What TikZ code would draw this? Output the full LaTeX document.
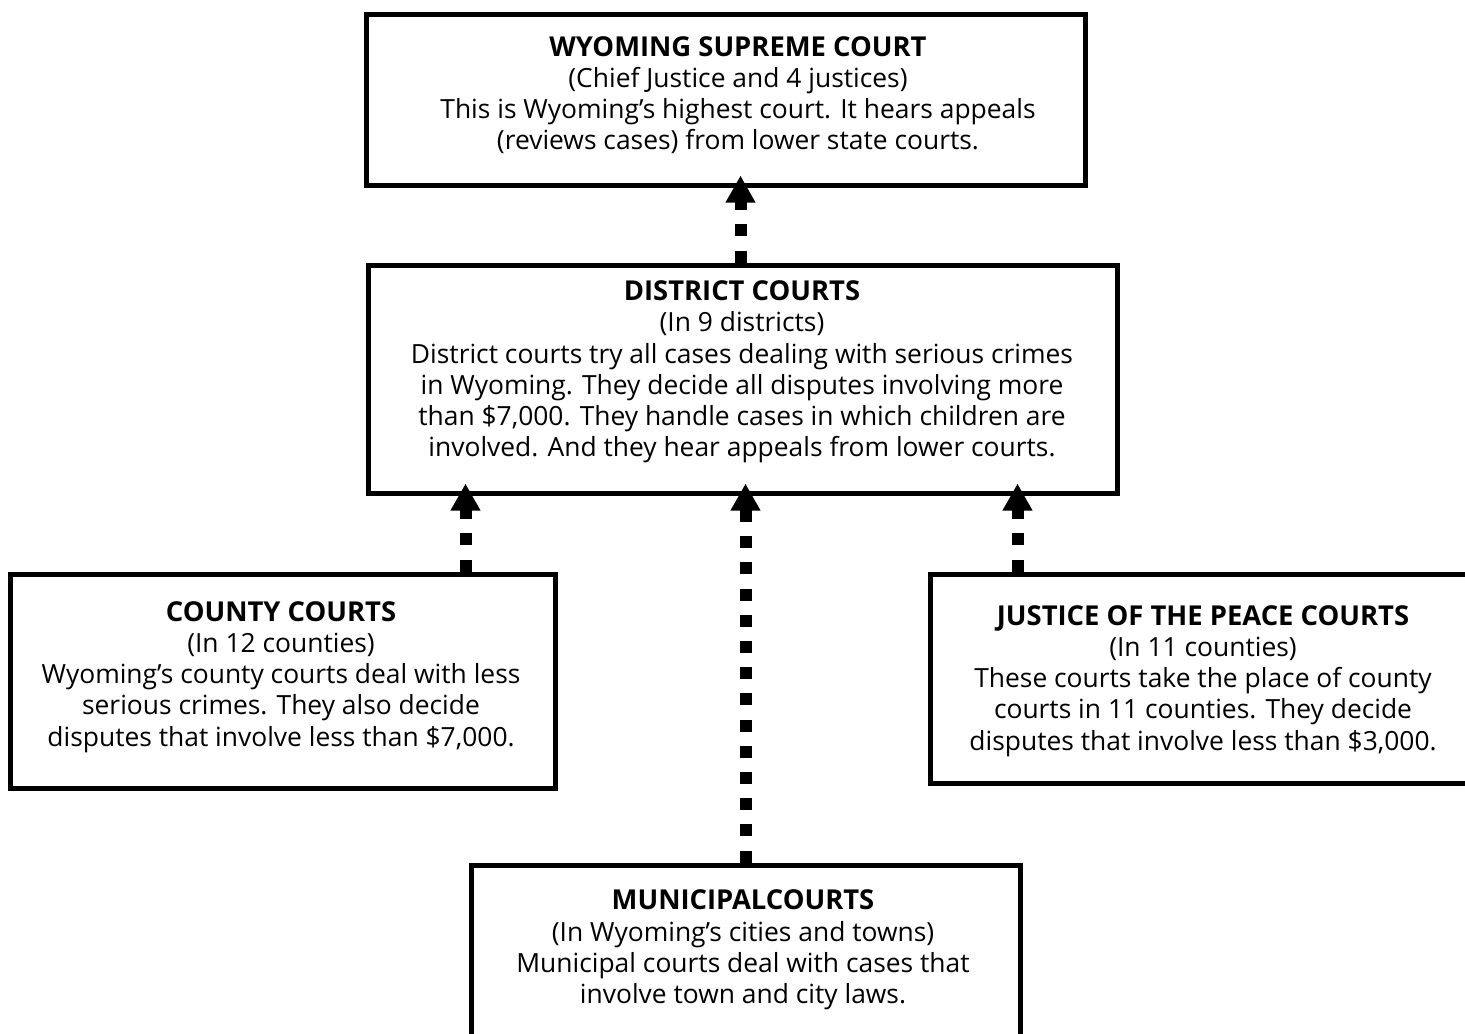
\documentclass[tikz,border=0pt]{standalone}
\usepackage{fontspec}
\setmainfont{Open Sans}
\usetikzlibrary{arrows.meta}
\newcommand{\courttitle}[1]{{\fontsize{13.7}{15.6}\selectfont\bfseries #1}}
\begin{document}
\begin{tikzpicture}[x=0.5pt, y=-0.5pt,
    court/.style={draw, line width=2.5pt, inner sep=0pt},
    courttext/.style={align=center, inner sep=0pt, font=\fontsize{13.2}{15.6}\selectfont},
    appeal/.style={line width=6pt, dash pattern=on 6pt off 7.1pt, shorten >=-6pt,
        -{Triangle[width=14pt, length=13.5pt]}}]
    \useasboundingbox (0, 0) rectangle (1465, 1033);

    % boxes
    \node[court, minimum width=359.5pt, minimum height=85.5pt] (supreme) at (725.5, 99.5) {};
    \node[court, minimum width=374.5pt, minimum height=114pt] (district) at (742.5, 379) {};
    \node[court, minimum width=272.5pt, minimum height=107pt] (county) at (282.5, 681) {};
    \node[court, minimum width=272pt, minimum height=104.5pt] (justice) at (1202, 678.5) {};
    \node[court, minimum width=274.5pt, minimum height=87pt] (municipal) at (745.5, 952) {};

    % texts
    \node[courttext] (supremetxt) at (738, 95) {\courttitle{WYOMING SUPREME COURT}\\
        (Chief Justice and 4 justices)\\
        This is Wyoming's highest court. It hears appeals\\
        (reviews cases) from lower state courts.};
    \node[courttext] (districttxt) at (742, 372) {\courttitle{DISTRICT COURTS}\\
        (In 9 districts)\\
        District courts try all cases dealing with serious crimes\\
        in Wyoming. They decide all disputes involving more\\
        than \$7,000. They handle cases in which children are\\
        involved. And they hear appeals from lower courts.};
    \node[courttext] (countytxt) at (281, 677) {\courttitle{COUNTY COURTS}\\
        (In 12 counties)\\
        Wyoming's county courts deal with less\\
        serious crimes. They also decide\\
        disputes that involve less than \$7,000.};
    \node[courttext] (justicetxt) at (1203, 681) {\courttitle{JUSTICE OF THE PEACE COURTS}\\
        (In 11 counties)\\
        These courts take the place of county\\
        courts in 11 counties. They decide\\
        disputes that involve less than \$3,000.};
    \node[courttext] (municipaltxt) at (743, 950) {\courttitle{MUNICIPALCOURTS}\\
        (In Wyoming's cities and towns)\\
        Municipal courts deal with cases that\\
        involve town and city laws.};

    % appeals
    \draw[appeal] ([xshift=-1pt]district.north) -- ([xshift=-1pt]district.north |- supreme.south);
    \draw[appeal] ([xshift=-46pt]county.north east) -- ([xshift=-46pt]county.north east |- district.south);
    \draw[appeal] (municipal.north) -- (municipal.north |- district.south);
    \draw[appeal] ([xshift=45pt]justice.north west) -- ([xshift=45pt]justice.north west |- district.south);
\end{tikzpicture}
\end{document}
